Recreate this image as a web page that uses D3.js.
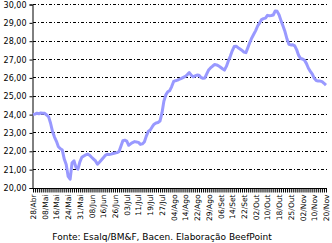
<!DOCTYPE html>
<html>
<head>
<meta charset="utf-8">
<script src="https://cdn.jsdelivr.net/npm/d3@7"></script>
<style>
  body { margin: 0; background: #fff; }
  svg { display: block; font-family: "DejaVu Sans", Verdana, sans-serif; }
</style>
</head>
<body>
<svg id="chart" width="332" height="243"></svg>
<script>
// tick labels on the x axis, one every 6 trading days
var tickLabels = ["28/Abr", "08/Mai", "16/Mai", "24/Mai", "31/Mai", "08/Jun", "16/Jun", "26/Jun",
    "03/Jul", "11/Jul", "19/Jul", "27/Jul", "04/Ago", "14/Ago", "22/Ago", "29/Ago", "06/Set",
    "14/Set", "22/Set", "02/Out", "10/Out", "18/Out", "25/Out", "02/Nov", "10/Nov", "20/Nov"];
var labelStep = 6;

// daily price
var prices = [
    23.98, 24.00, 24.05, 24.02, 24.06, 24.05, 24.04, 23.95, 23.85, 23.50,
    23.05, 22.75, 22.52, 22.22, 22.12, 22.04, 21.55, 21.25, 20.60, 20.45,
    21.35, 21.45, 21.10, 21.00, 21.40, 21.65, 21.72, 21.78, 21.82, 21.76,
    21.65, 21.55, 21.45, 21.27, 21.38, 21.50, 21.62, 21.75, 21.81, 21.80,
    21.82, 21.85, 21.88, 21.90, 21.95, 22.25, 22.55, 22.58, 22.53, 22.30,
    22.38, 22.45, 22.50, 22.48, 22.46, 22.35, 22.38, 22.48, 22.80, 23.05,
    23.13, 23.30, 23.45, 23.52, 23.54, 23.62, 24.05, 24.70, 25.05, 25.22,
    25.28, 25.50, 25.78, 25.82, 25.85, 25.90, 25.95, 26.00, 26.05, 26.15,
    26.26, 26.12, 26.03, 26.08, 26.13, 26.12, 26.00, 25.95, 25.97, 26.20,
    26.42, 26.53, 26.62, 26.70, 26.68, 26.63, 26.55, 26.47, 26.40, 26.60,
    26.90, 27.15, 27.45, 27.68, 27.70, 27.62, 27.55, 27.47, 27.38, 27.35,
    27.62, 27.90, 28.15, 28.35, 28.55, 28.80, 28.97, 29.15, 29.20, 29.23,
    29.38, 29.36, 29.37, 29.40, 29.62, 29.60, 29.40, 29.08, 28.80, 28.50,
    28.10, 27.80, 27.77, 27.78, 27.72, 27.50, 27.20, 27.03, 27.00, 26.93,
    26.75, 26.50, 26.33, 26.18, 25.95, 25.83, 25.80, 25.80, 25.77, 25.68,
    25.58
];

var yTicks = [20, 21, 22, 23, 24, 25, 26, 27, 28, 29, 30];
var source = "Fonte: Esalq/BM&F, Bacen. Elaboração BeefPoint";

var svg = d3.select("#chart");
var plotLeft = 32, plotRight = 327, plotTop = 4, plotBottom = 187.5;

var x = d3.scaleLinear().domain([0, prices.length - 1]).range([plotLeft + 1, plotRight - 1]);
var y = d3.scaleLinear().domain([20, 30]).range([plotBottom, plotTop]);
var fmt = function(d) { return d3.format(".2f")(d).replace(".", ","); };

// gridlines
svg.append("g")
    .selectAll("line")
    .data(yTicks.filter(d => d > 20))
    .join("line")
    .attr("x1", plotLeft + 1).attr("x2", plotRight)
    .attr("y1", d => Math.round(y(d)) + 0.5)
    .attr("y2", d => Math.round(y(d)) + 0.5)
    .attr("stroke", "#000")
    .attr("stroke-width", 1)
    .attr("stroke-dasharray", "3,2,1,2");

// y axis
var yAxis = svg.append("g")
    .attr("transform", "translate(" + (plotLeft + 0.5) + ",0.5)")
    .call(d3.axisLeft(y).tickValues(yTicks).tickSize(3).tickPadding(3).tickFormat(fmt));
yAxis.select(".domain").attr("stroke", "#000");
yAxis.selectAll("text").attr("font-size", 8).attr("fill", "#000")
    .attr("font-family", "DejaVu Sans");

// x axis, tick on every trading day
var xAxis = svg.append("g")
    .attr("transform", "translate(0," + (Math.round(plotBottom) + 0.5) + ")")
    .call(d3.axisBottom(x).tickValues(d3.range(prices.length)).tickSize(4).tickFormat(""));
xAxis.select(".domain").attr("stroke", "#000").attr("d", "M" + plotLeft + ",0H" + plotRight);

svg.append("g")
    .selectAll("text")
    .data(tickLabels)
    .join("text")
    .attr("transform", (d, i) => "translate(" + (x(i * labelStep) + 3) + "," + (plotBottom + 7) + ") rotate(-90)")
    .attr("text-anchor", "end")
    .attr("font-size", 7.5)
    .attr("fill", "#000")
    .text(d => d);

// price line
var line = d3.line()
    .x((d, i) => x(i))
    .y(d => y(d));

svg.append("path")
    .datum(prices)
    .attr("d", line)
    .attr("fill", "none")
    .attr("stroke", "#9999ff")
    .attr("stroke-width", 3)
    .attr("stroke-linejoin", "round");

svg.append("text")
    .attr("x", 162).attr("y", 240)
    .attr("text-anchor", "middle")
    .attr("font-size", 9)
    .attr("fill", "#000")
    .text(source);
</script>
</body>
</html>
